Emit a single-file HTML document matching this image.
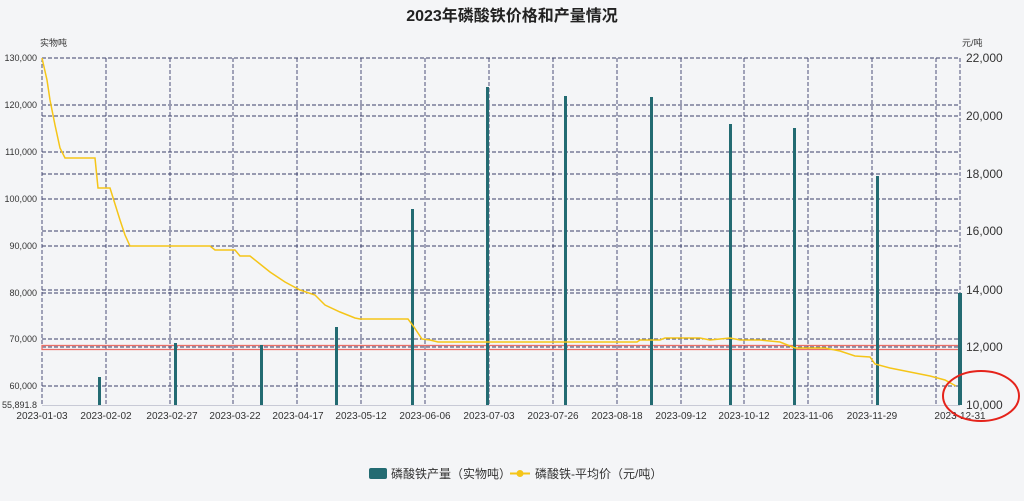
<!DOCTYPE html>
<html><head><meta charset="utf-8"><style>
body{margin:0;background:#f4f5f7;}
svg{display:block;font-family:"Liberation Sans","Noto Sans CJK SC",sans-serif;}
</style></head><body>
<svg width="1024" height="501" viewBox="0 0 1024 501" xmlns="http://www.w3.org/2000/svg">
<rect width="1024" height="501" fill="#f4f5f7"/>
<text x="512" y="21" text-anchor="middle" font-size="16" font-weight="bold" fill="#222">2023年磷酸铁价格和产量情况</text>
<text x="40" y="46" font-size="9" fill="#333">实物吨</text>
<text x="962" y="46" font-size="9" fill="#333">元/吨</text>
<g stroke="#3a3e6a" stroke-width="0.9" stroke-dasharray="4,2" fill="none">
<path d="M42 58H960M42 105H960M42 152H960M42 199H960M42 246H960M42 293H960M42 339H960M42 386H960"/>
<path d="M42 116H960M42 174H960M42 231H960M42 290H960M42 347H960"/>
<path d="M42 58V405M106 58V405M170 58V405M233 58V405M297 58V405M361 58V405M425 58V405M489 58V405M553 58V405M617 58V405M681 58V405M744 58V405M808 58V405M872 58V405M936 58V405M960 58V405"/>
</g>
<line x1="42" y1="405.5" x2="960" y2="405.5" stroke="#c8cad6" stroke-width="1"/>
<rect x="42" y="345.5" width="918" height="4" fill="none" stroke="#ea6f68" stroke-width="1.3"/>
<g font-size="9" fill="#333" text-anchor="end">
<text x="37" y="61">130,000</text><text x="37" y="108">120,000</text><text x="37" y="155">110,000</text><text x="37" y="202">100,000</text><text x="37" y="249">90,000</text><text x="37" y="296">80,000</text><text x="37" y="342">70,000</text><text x="37" y="389">60,000</text><text x="37" y="408">55,891.8</text>
</g>
<g font-size="12" fill="#333">
<text x="966" y="62">22,000</text><text x="966" y="120">20,000</text><text x="966" y="178">18,000</text><text x="966" y="235">16,000</text><text x="966" y="294">14,000</text><text x="966" y="351">12,000</text><text x="966" y="409">10,000</text>
</g>
<g font-size="10" fill="#333" text-anchor="middle">
<text x="42" y="419">2023-01-03</text><text x="106" y="419">2023-02-02</text><text x="172" y="419">2023-02-27</text><text x="235" y="419">2023-03-22</text><text x="298" y="419">2023-04-17</text><text x="361" y="419">2023-05-12</text><text x="425" y="419">2023-06-06</text><text x="489" y="419">2023-07-03</text><text x="553" y="419">2023-07-26</text><text x="617" y="419">2023-08-18</text><text x="681" y="419">2023-09-12</text><text x="744" y="419">2023-10-12</text><text x="808" y="419">2023-11-06</text><text x="872" y="419">2023-11-29</text><text x="960" y="419">2023-12-31</text>
</g>
<g fill="#236b72">
<rect x="98" y="377" width="3" height="28"/>
<rect x="174" y="343" width="3" height="62"/>
<rect x="260" y="345" width="3" height="60"/>
<rect x="335" y="327" width="3" height="78"/>
<rect x="411" y="209" width="3" height="196"/>
<rect x="486" y="87" width="3" height="318"/>
<rect x="564" y="96" width="3" height="309"/>
<rect x="650" y="97" width="3" height="308"/>
<rect x="729" y="124" width="3" height="281"/>
<rect x="793" y="128" width="3" height="277"/>
<rect x="876" y="176" width="3" height="229"/>
<rect x="958" y="293" width="4" height="112"/>
</g>
<polyline fill="none" stroke="#f5c518" stroke-width="1.5" points="42,58 47,80 50,100 55,125 60,148 65,158 95,158 98,188 110,188 120,220 125,235 130,246 210,246 215,250 235,250 240,256 250,256 260,264 270,272 285,282 300,290 315,295 325,305 340,312 355,318 360,319 408,319 414,327 422,339 430,340 438,342 637,342 640,340 660,340 665,338 700,338 710,340 720,339 730,338 740,340 760,340 780,342 790,346 795,348 825,348 840,351 855,356 870,357 875,364 890,368 910,372 930,376 945,380 956,386"/>
<ellipse cx="981" cy="396" rx="38" ry="25" fill="none" stroke="#e5231b" stroke-width="2"/>
<rect x="369" y="468" width="18" height="11" rx="2" fill="#236b72"/>
<text x="391" y="478" font-size="12" fill="#333">磷酸铁产量（实物吨）</text>
<line x1="510" y1="473.5" x2="530" y2="473.5" stroke="#f5c518" stroke-width="2"/>
<circle cx="520" cy="473.5" r="3.5" fill="#f5c518"/>
<text x="535" y="478" font-size="12" fill="#333">磷酸铁-平均价（元/吨）</text>
</svg>
</body></html>
